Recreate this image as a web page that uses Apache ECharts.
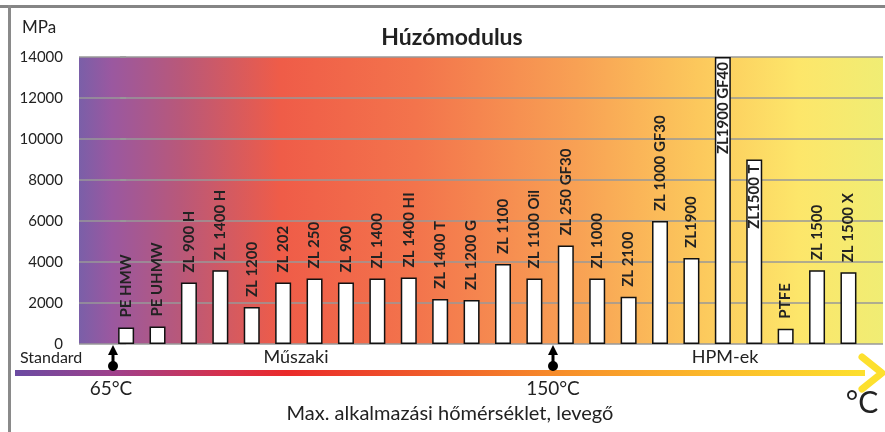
<!DOCTYPE html>
<html style="height: 100%">
<head>
<meta charset="utf-8">
</head>
<body style="height: 100%; margin: 0">
<div id="container" style="width: 885px; height: 432px"></div>
<script src="https://cdn.jsdelivr.net/npm/echarts@6/dist/echarts.min.js"></script>
<script type="text/javascript">
var materials = ['PE HMW', 'PE UHMW', 'ZL 900 H', 'ZL 1400 H', 'ZL 1200', 'ZL 202', 'ZL 250',
    'ZL 900', 'ZL 1400', 'ZL 1400 HI', 'ZL 1400 T', 'ZL 1200 G', 'ZL 1100', 'ZL 1100 Oil',
    'ZL 250 GF30', 'ZL 1000', 'ZL 2100', 'ZL 1000 GF30', 'ZL1900', 'ZL1900 GF40', 'ZL1500 T',
    'PTFE', 'ZL 1500', 'ZL 1500 X'];
var modulus = [800, 850, 3000, 3600, 1800, 3000, 3200, 3000, 3200, 3250, 2200, 2150, 3900, 3200,
    4800, 3200, 2300, 6000, 4200, 14000, 9000, 750, 3600, 3500];
var insideLabels = ['ZL1900 GF40', 'ZL1500 T'];
var yTicks = [0, 14000, 2000];

var dom = document.getElementById('container');
var myChart = echarts.init(dom);
var font = 'Lato, "Open Sans", sans-serif';

var bgGradient = new echarts.graphic.LinearGradient(0, 0, 1, 0, [
    { offset: 0, color: '#7a5fa8' },
    { offset: 0.04, color: '#9a58a0' },
    { offset: 0.125, color: '#b8587a' },
    { offset: 0.25, color: '#ef5c48' },
    { offset: 0.42, color: '#f3744c' },
    { offset: 0.62, color: '#f8a154' },
    { offset: 0.77, color: '#fcc85c' },
    { offset: 0.895, color: '#fde66a' },
    { offset: 1, color: '#f0ed74' }
]);
var arrowGradient = new echarts.graphic.LinearGradient(0, 0, 1, 0, [
    { offset: 0, color: '#6b4ba2' },
    { offset: 0.12, color: '#a0408a' },
    { offset: 0.25, color: '#d8304a' },
    { offset: 0.32, color: '#ea2a2a' },
    { offset: 0.5, color: '#f0602a' },
    { offset: 0.65, color: '#f7902a' },
    { offset: 0.8, color: '#fbb52a' },
    { offset: 1, color: '#fde02e' }
]);

var barData = materials.map(function (name, i) {
    var inside = insideLabels.indexOf(name) >= 0;
    return {
        name: name,
        value: [i, modulus[i]],
        label: inside ? { position: 'insideTop', align: 'right', distance: 5 } : {}
    };
});

function upArrow(x) {
    return {
        type: 'group',
        children: [
            { type: 'line', shape: { x1: x, y1: 352, x2: x, y2: 366 }, style: { stroke: '#000', lineWidth: 3 } },
            { type: 'polygon', shape: { points: [[x, 345], [x - 5, 355], [x + 5, 355]] }, style: { fill: '#000' } },
            { type: 'circle', shape: { cx: x, cy: 366, r: 5 }, style: { fill: '#000' } }
        ]
    };
}

var option = {
    animation: false,
    grid: {
        left: 79, right: 2, top: 57, bottom: 88,
        show: true, borderWidth: 0, backgroundColor: bgGradient
    },
    xAxis: {
        type: 'value', min: -1.5, max: 24.1,
        show: false, splitLine: { show: false }
    },
    yAxis: {
        type: 'value', min: yTicks[0], max: yTicks[1], interval: yTicks[2],
        axisLine: { show: false },
        axisTick: { show: true, length: 6, lineStyle: { color: '#999', width: 1.5 } },
        axisLabel: {
            color: '#222', fontSize: 15, fontFamily: font, margin: 16,
            formatter: function (v) { return String(v); }
        },
        splitLine: { show: true, lineStyle: { color: '#999', width: 1.5 } }
    },
    series: [{
        type: 'bar',
        barWidth: 16,
        data: barData,
        itemStyle: { color: '#fff', borderColor: '#111', borderWidth: 1.5 },
        label: {
            show: true,
            position: 'top',
            rotate: 90,
            align: 'left',
            verticalAlign: 'middle',
            distance: 10,
            formatter: '{b}',
            color: '#222',
            fontSize: 15,
            fontWeight: 'bold',
            fontFamily: font
        }
    }],
    graphic: [
        { type: 'rect', shape: { x: 0, y: 5, width: 885, height: 3 }, style: { fill: '#858585' } },
        { type: 'rect', shape: { x: 8, y: 5, width: 3, height: 427 }, style: { fill: '#8a8a8a' } },
        { type: 'text', x: 22, y: 19, style: { text: 'MPa', font: '17px ' + font, fill: '#222' } },
        { type: 'text', x: 452, y: 26, style: { text: 'Húzómodulus', font: 'bold 23px ' + font, fill: '#222', align: 'center' } },
        { type: 'rect', shape: { x: 15, y: 370, width: 850, height: 6 }, style: { fill: arrowGradient } },
        { type: 'polyline', shape: { points: [[862, 357], [882, 373], [862, 389]] },
          style: { stroke: '#fde02e', lineWidth: 7, lineCap: 'round', lineJoin: 'round', fill: null } },
        upArrow(113),
        upArrow(553),
        { type: 'text', x: 20, y: 350, style: { text: 'Standard', font: '16px ' + font, fill: '#222' } },
        { type: 'text', x: 296, y: 348, style: { text: 'Műszaki', font: '18px ' + font, fill: '#222', align: 'center' } },
        { type: 'text', x: 725, y: 348, style: { text: 'HPM-ek', font: '18px ' + font, fill: '#222', align: 'center' } },
        { type: 'text', x: 111, y: 379, style: { text: '65°C', font: '19px ' + font, fill: '#222', align: 'center' } },
        { type: 'text', x: 553, y: 379, style: { text: '150°C', font: '19px ' + font, fill: '#222', align: 'center' } },
        { type: 'text', x: 862, y: 388, style: { text: '°C', font: '30px ' + font, fill: '#222', align: 'center' } },
        { type: 'text', x: 450, y: 404, style: { text: 'Max. alkalmazási hőmérséklet, levegő', font: '20px ' + font, fill: '#222', align: 'center' } }
    ]
};

myChart.setOption(option);
</script>
</body>
</html>
